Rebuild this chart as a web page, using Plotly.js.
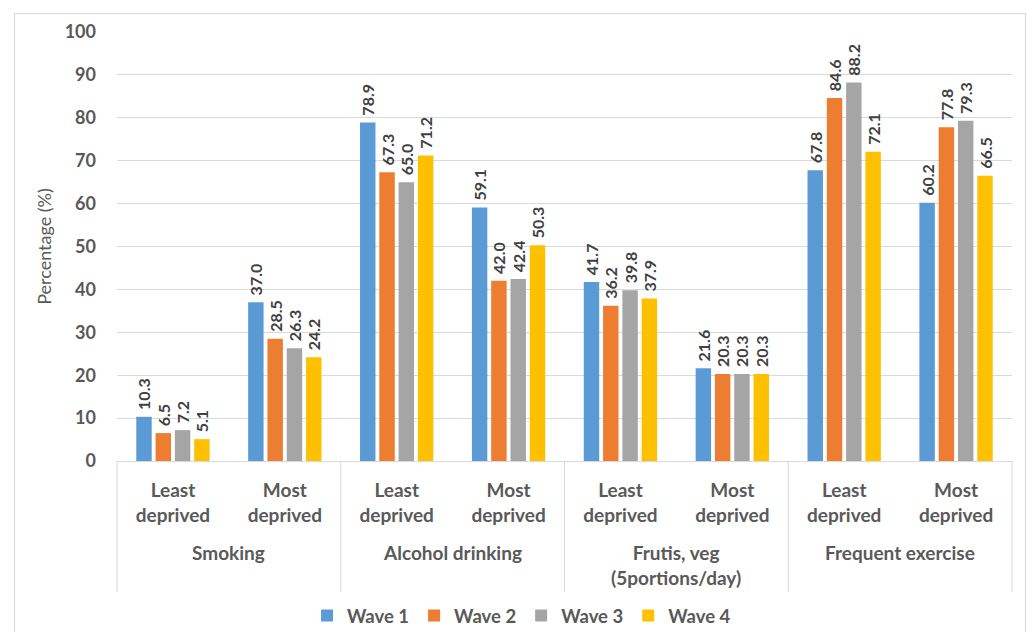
<!DOCTYPE html>
<html>
<head>
<meta charset="utf-8">
<script src="https://cdn.plot.ly/plotly-3.0.1.min.js"></script>
<style>
  html, body { margin: 0; padding: 0; background: #fff; }
  #wrap { position: relative; width: 1027px; height: 632px; overflow: hidden; }
  #chart { width: 1027px; height: 632px; }
  #frame { position: absolute; left: 14px; top: 13px; width: 1010px; height: 640px;
           border: 1px solid #d9d9d9; pointer-events: none; }
</style>
</head>
<body>
<div id="wrap"><div id="chart"></div><div id="frame"></div></div>
<script>
const groups = ["Smoking", "Smoking", "Alcohol drinking", "Alcohol drinking",
                "Frutis, veg<br>(5portions/day)", "Frutis, veg<br>(5portions/day)",
                "Frequent exercise", "Frequent exercise"];
const subgroups = ["Least<br>deprived", "Most<br>deprived", "Least<br>deprived", "Most<br>deprived",
                   "Least<br>deprived", "Most<br>deprived", "Least<br>deprived", "Most<br>deprived"];
const seriesNames = ["Wave 1", "Wave 2", "Wave 3", "Wave 4"];
const wave1 = [10.3, 37.0, 78.9, 59.1, 41.7, 21.6, 67.8, 60.2];
const wave2 = [6.5, 28.5, 67.3, 42.0, 36.2, 20.3, 84.6, 77.8];
const wave3 = [7.2, 26.3, 65.0, 42.4, 39.8, 20.3, 88.2, 79.3];
const wave4 = [5.1, 24.2, 71.2, 50.3, 37.9, 20.3, 72.1, 66.5];
const colors = ["#5B9BD5", "#ED7D31", "#A5A5A5", "#FFC000"];

const FONT = "Lato, sans-serif";
const GREY = "#595959";
const positions = subgroups.map((_, i) => i);
const xRange = [-0.5, subgroups.length - 0.5];

const allSeries = [wave1, wave2, wave3, wave4];
const traces = allSeries.map((vals, i) => ({
  type: "bar",
  name: "<b>" + seriesNames[i] + "</b>",
  x: positions,
  y: vals,
  customdata: groups.map((g, k) => g.replace("<br>", " ") + " – " + subgroups[k].replace("<br>", " ")),
  marker: { color: colors[i] },
  text: vals.map(v => v.toFixed(1)),
  texttemplate: "<b>\u00a0%{text}</b>",
  textposition: "outside",
  textangle: -90,
  constraintext: "none",
  cliponaxis: false,
  textfont: { family: FONT, size: 16, color: "#404040" },
  hovertemplate: "%{customdata}<br>%{y:.1f}%<extra>" + seriesNames[i] + "</extra>"
}));

// group labels and dividers derived from the groups array
const uniqueGroups = [];
groups.forEach((g, i) => {
  const last = uniqueGroups[uniqueGroups.length - 1];
  if (last && last.name === g) { last.end = i; } else { uniqueGroups.push({ name: g, start: i, end: i }); }
});
const toPaperX = v => (v - xRange[0]) / (xRange[1] - xRange[0]);
const annotations = uniqueGroups.map(g => ({
  xref: "x", yref: "paper",
  x: (g.start + g.end) / 2, y: -0.182,
  xanchor: "center", yanchor: "top",
  text: "<b>" + g.name + "</b>",
  showarrow: false,
  font: { family: FONT, size: 19, color: GREY }
}));
const boundaries = [uniqueGroups[0].start - 0.5].concat(uniqueGroups.map(g => g.end + 0.5));
const shapes = boundaries.map(b => ({
  type: "line", xref: "paper", yref: "paper",
  x0: toPaperX(b), x1: toPaperX(b), y0: 0, y1: -0.3054,
  line: { color: "#d9d9d9", width: 1 }
}));

const layout = {
  width: 1027, height: 632,
  margin: { l: 117, r: 15, t: 32, b: 171, autoexpand: false },
  paper_bgcolor: "#ffffff",
  plot_bgcolor: "#ffffff",
  barmode: "group",
  bargap: 0.31,
  bargroupgap: 0.2,
  font: { family: FONT, color: GREY },
  xaxis: {
    range: xRange,
    tickmode: "array",
    tickvals: positions,
    ticktext: subgroups.map(s => "<b>" + s + "</b>"),
    showline: true,
    linecolor: "#d9d9d9",
    linewidth: 1,
    ticks: "",
    ticklabelstandoff: 12,
    tickfont: { family: FONT, size: 19, color: GREY },
    showgrid: false,
    zeroline: false
  },
  yaxis: {
    range: [0, 100],
    dtick: 10,
    showgrid: true,
    gridcolor: "#d9d9d9",
    gridwidth: 1,
    zeroline: false,
    showline: false,
    ticks: "",
    ticklabelstandoff: 20,
    tickfont: { family: FONT, size: 18, color: GREY, weight: "bold" },
    title: { text: "Percentage (%)", font: { family: FONT, size: 18, color: GREY }, standoff: 8 }
  },
  annotations: annotations,
  shapes: shapes,
  legend: {
    orientation: "h",
    x: 0.452, xanchor: "center",
    y: -0.361, yanchor: "middle",
    font: { family: FONT, size: 18.5, color: GREY, weight: "bold" },
    itemwidth: 30,
    tracegroupgap: 0
  },
  showlegend: true
};

Plotly.newPlot("chart", traces, layout, { displayModeBar: false, staticPlot: true });
</script>
</body>
</html>
